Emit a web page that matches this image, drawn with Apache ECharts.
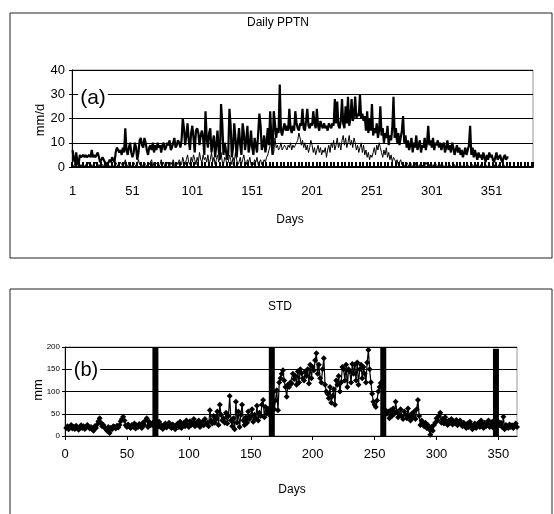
<!DOCTYPE html>
<html>
<head>
<meta charset="utf-8">
<script src="https://cdn.jsdelivr.net/npm/echarts@6/dist/echarts.min.js"></script>
<style>
  html, body { margin: 0; padding: 0; background: #fff; }
  #chart { width: 554px; height: 514px; }
</style>
</head>
<body>
<div id="chart"></div>
<script>
// panel (a): daily precipitation, category axis runs a little past the data
const pptnDays = Array.from({ length: 385 }, (_, i) => String(i + 1))

const pptnHigh = [
  7, 3, 2, 6, 2, 1, 5, 4, 4, 5,   4, 5, 4, 4, 5, 4, 7, 4, 5, 4,
  5, 6, 4, 2, 3, 4, 3, 2, 2, 1,   2, 3, 2, 4, 3, 2, 6, 8, 7, 6,
  7, 5, 8, 6, 16, 7, 5, 8, 10, 6, 4, 6, 10, 8, 3, 6, 11, 12, 9, 8,
  12, 10, 7, 5, 8, 9, 7, 10, 6, 9, 7, 10, 8, 9, 6, 9, 10, 7, 8, 10,
  9, 11, 7, 8, 10, 12, 8, 9, 11, 10, 8, 11, 20, 16, 9, 13, 18, 11, 7, 14,
  17, 12, 6, 15, 16, 14, 9, 13, 15, 12, 5, 23, 12, 8, 14, 16, 6, 10, 13, 4,
  9, 15, 7, 3, 26, 18, 5, 10, 7, 3, 6, 24, 17, 4, 8, 18, 12, 4, 10, 16,
  9, 5, 18, 14, 7, 11, 17, 6, 9, 15, 8, 5, 12, 9, 6, 14, 22, 17, 7, 9,
  13, 6, 10, 16, 9, 23, 12, 5, 23, 18, 12, 16, 14, 34, 15, 13, 16, 18, 15, 17,
  15, 24, 16, 14, 17, 15, 23, 18, 16, 15, 18, 17, 24, 16, 15, 19, 24, 17, 16, 18,
  17, 23, 18, 16, 24, 17, 15, 19, 17, 16, 18, 16, 17, 15, 18, 17, 16, 18, 17, 28,
  18, 27, 17, 16, 19, 28, 18, 16, 25, 18, 29, 17, 20, 28, 19, 21, 29, 20, 22, 21,
  30, 20, 22, 19, 21, 15, 23, 14, 20, 15, 26, 13, 16, 14, 18, 12, 15, 25, 13, 16,
  10, 14, 12, 17, 9, 13, 11, 16, 29, 12, 16, 10, 14, 9, 12, 15, 21, 10, 13, 8,
  11, 7, 9, 12, 6, 10, 8, 13, 7, 9, 11, 6, 9, 8, 12, 7, 10, 17, 9, 11,
  8, 12, 7, 10, 9, 11, 8, 10, 7, 9, 10, 6, 8, 11, 7, 9, 6, 10, 8, 5,
  7, 9, 6, 8, 5, 7, 4, 6, 8, 5, 7, 9, 17, 5, 8, 4, 7, 5, 3, 6,
  4, 5, 3, 6, 4, 2, 5, 3, 6, 4, 5, 3, 2, 4, 6, 3, 4, 5, 3, 2,
  4, 5, 3, 4, 4
]

const pptnLow = [
  1, 0, 2, 0, 1, 2, 0, 1, 0, 1,   0, 1, 0, 2, 1, 0, 1, 0, 1, 2,
  1, 0, 1, 0, 0, 1, 0, 2, 1, 0,   1, 0, 0, 1, 0, 1, 2, 1, 0, 1,
  2, 1, 0, 1, 3, 1, 0, 2, 1, 0,   1, 2, 1, 0, 1, 3, 1, 2, 0, 1,
  2, 1, 0, 2, 1, 1, 3, 0, 2, 1,   1, 2, 0, 1, 3, 1, 2, 0, 1, 2,
  1, 0, 2, 1, 3, 1, 0, 2, 1, 3,   2, 1, 4, 2, 1, 3, 5, 2, 1, 4,
  2, 5, 3, 1, 4, 2, 6, 3, 2, 5,   3, 4, 2, 5, 1, 3, 6, 2, 4, 1,
  3, 5, 2, 4, 6, 2, 1, 4, 3, 1,   2, 5, 3, 1, 4, 2, 6, 3, 1, 2,
  4, 1, 3, 5, 2, 1, 3, 2, 4, 1,   2, 1, 3, 2, 4, 1, 2, 3, 1, 2,
  3, 2, 4, 5, 7, 9, 11, 5, 6, 12, 8, 9, 7, 8, 10, 7, 8, 9, 8, 7,
  9, 8, 10, 7, 9, 8, 9, 10, 11, 14, 12, 9, 11, 8, 10, 7, 9, 6, 8, 11,
  9, 6, 8, 5, 7, 9, 6, 8, 5, 7,   6, 8, 4, 7, 9, 6, 10, 8, 11, 7,
  9, 12, 8, 10, 7, 11, 13, 9, 12, 8, 10, 13, 9, 11, 8, 12, 10, 7, 9, 6,
  8, 10, 6, 9, 5, 7, 4, 6, 3, 5,  4, 6, 8, 5, 9, 7, 10, 8, 6, 4,
  7, 5, 8, 4, 6, 3, 5, 2, 4, 3,   2, 3, 1, 2, 3, 1, 2, 0, 1, 2,
  1, 0, 2, 1, 0, 1, 2, 0, 1, 0,   1, 0, 0, 1, 0, 2, 1, 0, 1, 0,
  0, 1, 0, 0, 1, 0, 0, 1, 0, 1,   0, 0, 1, 0, 0, 1, 0, 0, 0, 1,
  0, 1, 0, 0, 1, 0, 0, 1, 0, 0,   1, 0, 0, 0, 1, 0, 0, 1, 0, 0,
  0, 1, 0, 0, 0, 1, 0, 0, 1, 0,   0, 0, 1, 0, 0, 0, 1, 0, 0, 0,
  1, 0, 0, 0, 0
]

// panel (b): standard deviation per day
const stdValues = [
  18, 22, 15, 20, 25, 17, 21, 16, 23, 19, 14, 20, 24, 18, 22, 16, 19, 25, 21, 17,
  20, 15, 12, 22, 18, 26, 33, 40, 30, 22, 25, 19, 16, 12, 20, 7, 18, 15, 22, 20,
  17, 23, 19, 25, 33, 38, 43, 35, 24, 20, 26, 22, 18, 25, 21, 28, 17, 24, 20, 27,
  22, 18, 30, 25, 35, 40, 20, 32, 24, 26, 30, 22, 28, 18, 25, 32, 20, 24, 16, 22,
  28, 19, 25, 30, 21, 18, 26, 22, 15, 24, 28, 20, 32, 18, 25, 30, 22, 35, 26, 20,
  33, 25, 28, 38, 22, 30, 26, 35, 20, 28, 32, 24, 38, 27, 30, 22, 58, 35, 28, 45,
  30, 38, 55, 25, 70, 48, 35, 40, 30, 52, 28, 45, 90, 35, 22, 40, 15, 77, 30, 55,
  20, 48, 70, 35, 25, 42, 30, 55, 38, 45, 60, 32, 48, 40, 68, 35, 52, 45, 70, 81,
  42, 65, 50, 58, 62, 45, 65, 98, 60, 80, 103, 58, 120, 130, 140, 148, 125, 110, 88, 115,
  110, 120, 118, 140, 128, 135, 115, 145, 120, 150, 141, 130, 125, 145, 135, 150, 118, 160, 130, 155,
  148, 170, 186, 140, 160, 130, 120, 150, 175, 115, 100, 95, 85, 110, 75, 90, 105, 70, 125, 115,
  135, 100, 120, 155, 150, 125, 160, 110, 150, 145, 120, 162, 140, 160, 125, 165, 115, 150, 160, 130,
  155, 140, 120, 165, 193, 150, 121, 95, 77, 70, 65, 80, 100, 110, 119, 115, 85, 60, 55, 50,
  55, 40, 58, 45, 62, 50, 77, 55, 42, 48, 60, 45, 38, 55, 48, 40, 62, 45, 35, 50,
  42, 55, 38, 60, 81, 45, 25, 35, 28, 22, 30, 18, 25, 15, 3, 20, 12, 25, 30, 40,
  35, 45, 52, 30, 38, 28, 42, 32, 25, 35, 30, 38, 26, 33, 28, 36, 24, 30, 35, 27,
  22, 30, 25, 18, 28, 20, 32, 24, 15, 22, 28, 18, 25, 30, 20, 35, 26, 18, 30, 22,
  28, 35, 20, 25, 32, 18, 28, 22, 35, 30, 25, 30, 20, 43, 15, 25, 22, 18, 26, 20,
  24, 18, 22, 28, 20
]

// thick vertical markers in panel (b)
const seasonDays = [73, 167, 257, 348]
const seasonHeights = [200, 198, 200, 196]

const font = '"Liberation Sans", Arial, sans-serif'
const chart = echarts.init(document.getElementById('chart'))

chart.setOption({
  animation: false,
  textStyle: { fontFamily: font, color: '#000' },
  grid: [
    { left: 72, top: 70, width: 461, height: 97, show: true, borderColor: '#999', borderWidth: 1 },
    { left: 65, top: 347, width: 452, height: 89, show: true, borderColor: '#999', borderWidth: 1 }
  ],
  xAxis: [{
    gridIndex: 0,
    type: 'category',
    data: pptnDays,
    boundaryGap: true,
    axisLine: { lineStyle: { color: '#000', width: 2 } },
    axisTick: { show: true, interval: 2, inside: true, length: 5, lineStyle: { color: '#000', width: 2 } },
    axisLabel: { interval: 49, color: '#000', fontSize: 13, margin: 18 },
    splitLine: { show: false }
  }, {
    gridIndex: 1,
    type: 'value',
    min: 0,
    max: 365,
    interval: 50,
    axisLine: { lineStyle: { color: '#000', width: 1 } },
    axisTick: { show: true, length: 4, lineStyle: { color: '#000' } },
    axisLabel: { color: '#000', fontSize: 13, margin: 12, showMaxLabel: false },
    splitLine: { show: false }
  }],
  yAxis: [{
    gridIndex: 0,
    type: 'value',
    min: 0,
    max: 40,
    interval: 10,
    axisLine: { show: true, lineStyle: { color: '#000' } },
    axisTick: { show: true, length: 3, lineStyle: { color: '#000' } },
    axisLabel: { color: '#000', fontSize: 13, margin: 7 },
    splitLine: { lineStyle: { color: '#000', width: 1 } }
  }, {
    gridIndex: 1,
    type: 'value',
    min: 0,
    max: 200,
    interval: 50,
    axisLine: { show: true, lineStyle: { color: '#000' } },
    axisTick: { show: true, length: 3, lineStyle: { color: '#000' } },
    axisLabel: { color: '#000', fontSize: 8, margin: 5 },
    splitLine: { lineStyle: { color: '#000', width: 1 } }
  }],
  series: [{
    type: 'line',
    xAxisIndex: 0,
    yAxisIndex: 0,
    data: pptnHigh,
    showSymbol: false,
    lineStyle: { color: '#000', width: 2.2 },
    z: 3
  }, {
    type: 'line',
    xAxisIndex: 0,
    yAxisIndex: 0,
    data: pptnLow,
    showSymbol: false,
    lineStyle: { color: '#000', width: 1 },
    z: 4
  }, {
    type: 'line',
    xAxisIndex: 1,
    yAxisIndex: 1,
    data: stdValues.map((v, i) => [i + 1, v]),
    symbol: 'diamond',
    symbolSize: 6,
    itemStyle: { color: '#000' },
    lineStyle: { color: '#000', width: 1.2 },
    z: 3
  }, {
    type: 'bar',
    xAxisIndex: 1,
    yAxisIndex: 1,
    data: seasonDays.map((d, i) => [d, seasonHeights[i]]),
    barWidth: 6,
    itemStyle: { color: '#000' },
    z: 4
  }],
  graphic: [
    { type: 'rect', shape: { x: 10, y: 13, width: 542, height: 245 }, style: { fill: 'none', stroke: '#222', lineWidth: 1 } },
    { type: 'rect', shape: { x: 10, y: 289, width: 542, height: 240 }, style: { fill: 'none', stroke: '#222', lineWidth: 1 } },
    { type: 'text', x: 278, y: 23, style: { text: 'Daily PPTN', font: '12px ' + font, fill: '#000', align: 'center', verticalAlign: 'middle' } },
    { type: 'text', x: 290, y: 220, style: { text: 'Days', font: '12px ' + font, fill: '#000', align: 'center', verticalAlign: 'middle' } },
    { type: 'text', x: 40, y: 120, rotation: Math.PI / 2, style: { text: 'mm/d', font: '13px ' + font, fill: '#000', align: 'center', verticalAlign: 'middle' } },
    { type: 'text', x: 93, y: 98, z: 10, style: { text: '(a)', font: '21px ' + font, fill: '#000', align: 'center', verticalAlign: 'middle', backgroundColor: '#fff', padding: [0, 2] } },
    { type: 'text', x: 280, y: 307, style: { text: 'STD', font: '12px ' + font, fill: '#000', align: 'center', verticalAlign: 'middle' } },
    { type: 'text', x: 292, y: 490, style: { text: 'Days', font: '12px ' + font, fill: '#000', align: 'center', verticalAlign: 'middle' } },
    { type: 'text', x: 38, y: 390, rotation: Math.PI / 2, style: { text: 'mm', font: '13px ' + font, fill: '#000', align: 'center', verticalAlign: 'middle' } },
    { type: 'text', x: 86, y: 370, z: 10, style: { text: '(b)', font: '20px ' + font, fill: '#000', align: 'center', verticalAlign: 'middle', backgroundColor: '#fff', padding: [0, 2] } }
  ]
})
</script>
</body>
</html>
